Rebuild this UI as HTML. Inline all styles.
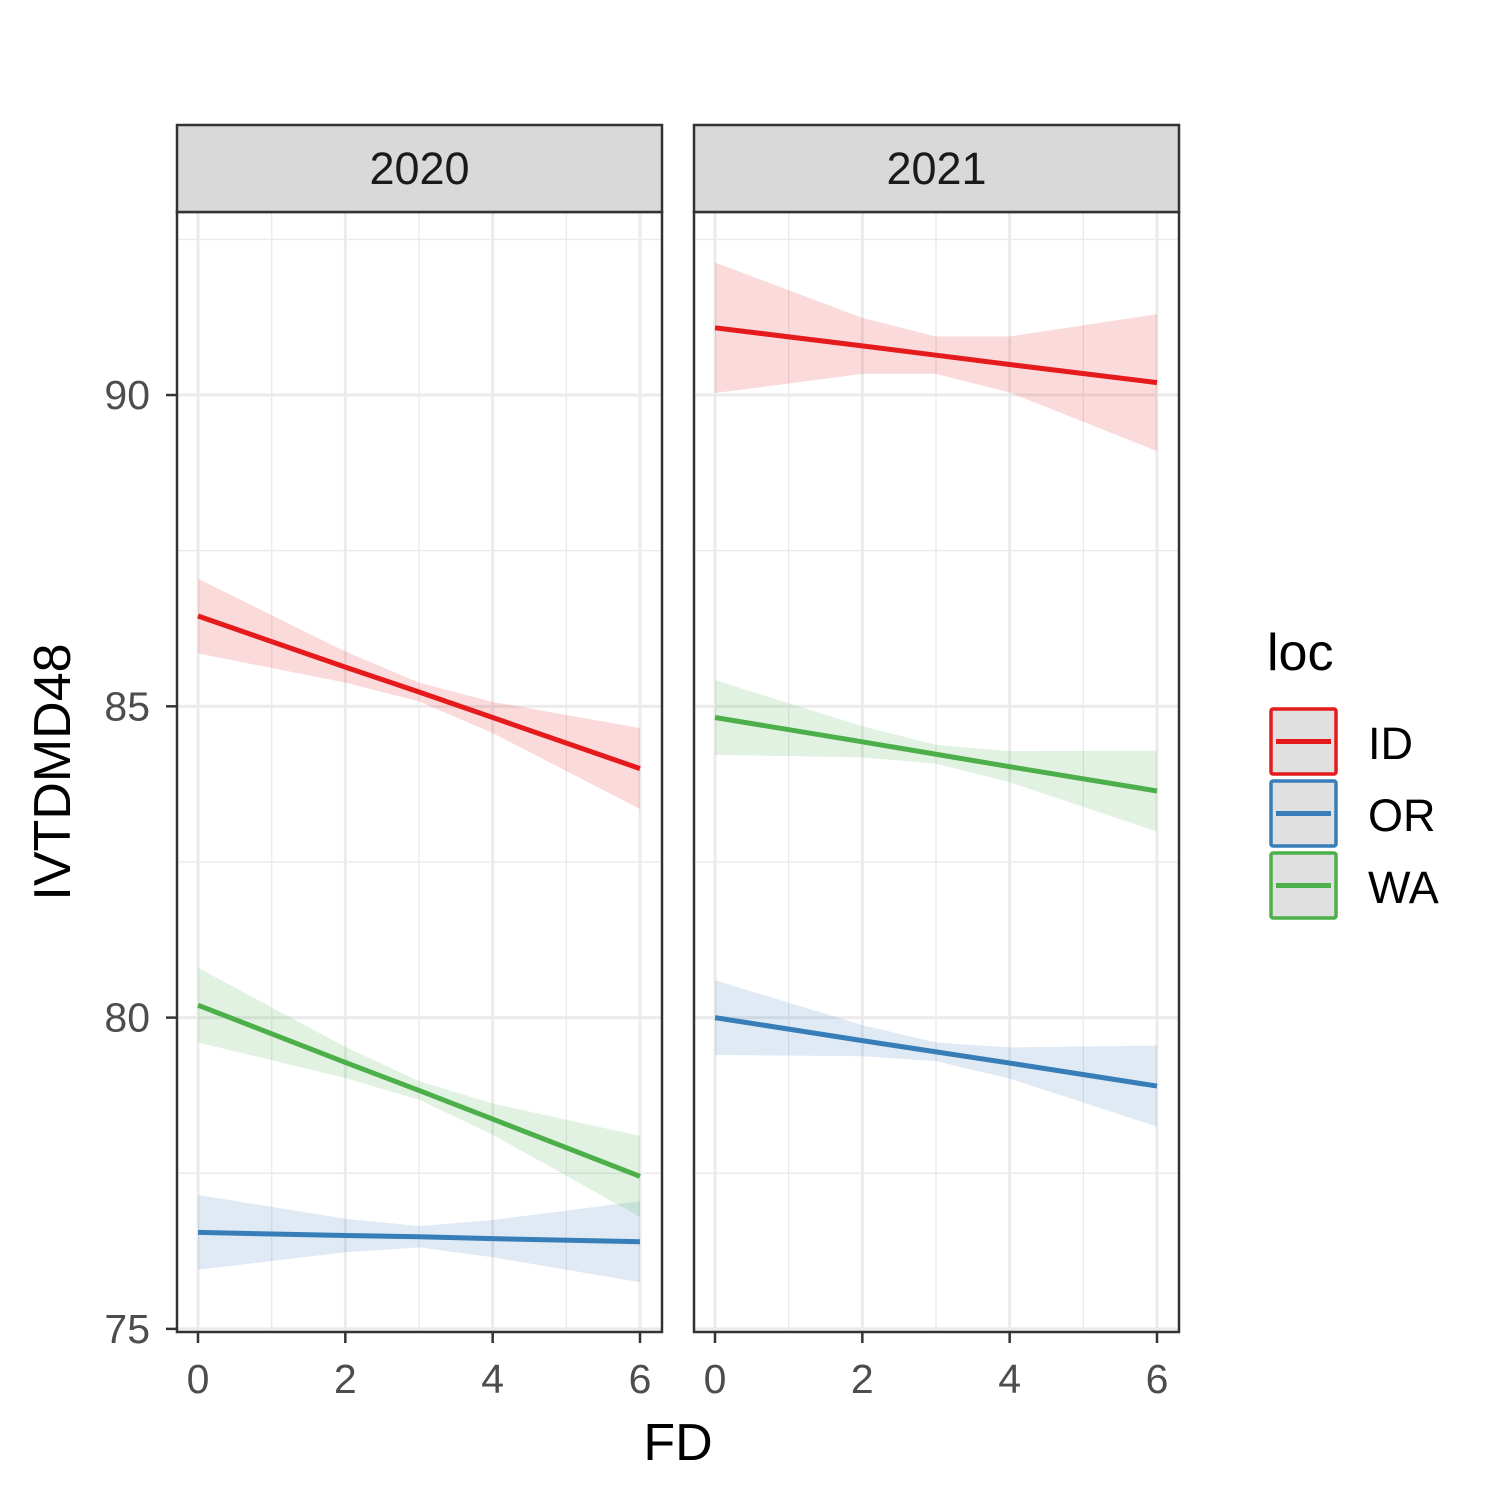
<!DOCTYPE html>
<html><head><meta charset="utf-8"><style>
html,body{margin:0;padding:0;background:#fff}
svg{display:block;font-family:"Liberation Sans",Arial,sans-serif}
</style></head><body>
<svg id="chart" width="1500" height="1500" viewBox="0 0 1500 1500">
<rect width="1500" height="1500" fill="#fff"/>
<g id="panels"></g>
<text x="678" y="1460" font-size="52" text-anchor="middle" fill="#000">FD</text>
<text transform="translate(70,772) rotate(-90)" font-size="52" text-anchor="middle" fill="#000">IVTDMD48</text>
<g>
<text x="1267" y="670" font-size="52" fill="#000">loc</text>
<g id="legend"></g>
</g>
</svg>
<script>
const years = ["2020", "2021"];
const locs = ["ID", "OR", "WA"];
const colors = ["#e41a1c", "#377eb8", "#4daf4a"];
const xPoints = [0, 2, 3, 4, 6];
const xTicks = [0, 2, 4, 6];
const yTicks = [75, 80, 85, 90];
// fitted values at xPoints, per panel
const fit2020_ID = [86.45, 85.63, 85.23, 84.82, 84.0];
const fit2020_OR = [76.55, 76.5, 76.48, 76.45, 76.4];
const fit2020_WA = [80.2, 79.28, 78.83, 78.37, 77.45];
const fit2021_ID = [91.08, 90.79, 90.64, 90.49, 90.2];
const fit2021_OR = [80.0, 79.63, 79.45, 79.27, 78.9];
const fit2021_WA = [84.82, 84.43, 84.23, 84.03, 83.64];
// confidence half-widths at xPoints
const ci2020_ID = [0.6, 0.25, 0.15, 0.25, 0.65];
const ci2020_OR = [0.6, 0.27, 0.17, 0.3, 0.65];
const ci2020_WA = [0.6, 0.25, 0.15, 0.25, 0.65];
const ci2021_ID = [1.05, 0.45, 0.3, 0.45, 1.1];
const ci2021_OR = [0.6, 0.25, 0.15, 0.25, 0.65];
const ci2021_WA = [0.6, 0.25, 0.15, 0.25, 0.65];

const fits = [[fit2020_ID, fit2020_OR, fit2020_WA], [fit2021_ID, fit2021_OR, fit2021_WA]];
const cis = [[ci2020_ID, ci2020_OR, ci2020_WA], [ci2021_ID, ci2021_OR, ci2021_WA]];

const NS = "http://www.w3.org/2000/svg";
function mk(tag, attrs, parent){const e=document.createElementNS(NS,tag);for(const k in attrs)e.setAttribute(k,attrs[k]);parent.appendChild(e);return e;}
const panelLeft = [177, 694], panelW = 485, plotTop = 212, plotBottom = 1332;
const yMin = 74.95, yMax = 92.94;
function yScale(v){return plotBottom - (v - yMin) / (yMax - yMin) * (plotBottom - plotTop);}
function xScale(p, v){return panelLeft[p] + 21 + v * (442 / 6);}

const panels = document.getElementById("panels");
years.forEach((yr, p) => {
  const g = mk("g", {}, panels);
  
  
  const L = panelLeft[p];
  mk("rect", {x:L, y:plotTop, width:panelW, height:plotBottom-plotTop, fill:"#fff"}, g);
  for (let v = 77.5; v < yMax; v += 5) mk("line", {x1:L, x2:L+panelW, y1:yScale(v), y2:yScale(v), stroke:"#ebebeb", "stroke-width":1.4}, g);
  [1,3,5].forEach(v => mk("line", {x1:xScale(p,v), x2:xScale(p,v), y1:plotTop, y2:plotBottom, stroke:"#ebebeb", "stroke-width":1.4}, g));
  yTicks.forEach(v => mk("line", {x1:L, x2:L+panelW, y1:yScale(v), y2:yScale(v), stroke:"#ebebeb", "stroke-width":3}, g));
  xTicks.forEach(v => mk("line", {x1:xScale(p,v), x2:xScale(p,v), y1:plotTop, y2:plotBottom, stroke:"#ebebeb", "stroke-width":3}, g));
  locs.forEach((loc, i) => {
    const f = fits[p][i], c = cis[p][i];
    let pts = xPoints.map((x,k) => xScale(p,x)+","+yScale(f[k]+c[k]));
    pts = pts.concat(xPoints.map((x,k) => xScale(p,x)+","+yScale(f[k]-c[k])).reverse());
    const rib = mk("polygon", {points:pts.join(" "), fill:colors[i], "fill-opacity":0.16}, g);
    
    
    const ln = mk("polyline", {points:xPoints.map((x,k)=>xScale(p,x)+","+yScale(f[k])).join(" "), fill:"none", stroke:colors[i], "stroke-width":5}, g);
    
    
  });
  mk("rect", {x:L, y:plotTop, width:panelW, height:plotBottom-plotTop, fill:"none", stroke:"#333", "stroke-width":2.5}, g);
  const strip = mk("rect", {x:L, y:125, width:panelW, height:87, fill:"#d9d9d9", stroke:"#333", "stroke-width":2.5}, g);
  
  
  const st = mk("text", {x:L+panelW/2, y:184, "font-size":45, "text-anchor":"middle", fill:"#1a1a1a"}, g);
  st.textContent = yr;
  
  
  xTicks.forEach(v => {
    mk("line", {x1:xScale(p,v), x2:xScale(p,v), y1:plotBottom, y2:plotBottom+11, stroke:"#333", "stroke-width":2.5}, g);
    const t = mk("text", {x:xScale(p,v), y:1393, "font-size":41, "text-anchor":"middle", fill:"#4d4d4d"}, g);
    t.textContent = v;
    
    
  });
});
const gy = mk("g", {}, panels);


yTicks.forEach(v => {
  mk("line", {x1:166, x2:177, y1:yScale(v), y2:yScale(v), stroke:"#333", "stroke-width":2.5}, gy);
  const t = mk("text", {x:150, y:yScale(v)+14, "font-size":41, "text-anchor":"end", fill:"#4d4d4d"}, gy);
  t.textContent = v;
  
  
});
const lg = document.getElementById("legend");
locs.forEach((loc, i) => {
  const y0 = 709 + i * 72;
  const k = mk("g", {}, lg);
  
  
  mk("rect", {x:1271, y:y0, width:65, height:65, fill:"#e0e0e0", stroke:colors[i], "stroke-width":3.5, rx:2}, k);
  mk("line", {x1:1276, x2:1331, y1:y0+32.5, y2:y0+32.5, stroke:colors[i], "stroke-width":5}, k);
  const t = mk("text", {x:1368, y:y0+50, "font-size":45, fill:"#000"}, k);
  t.textContent = loc;
});
</script>
</body></html>
